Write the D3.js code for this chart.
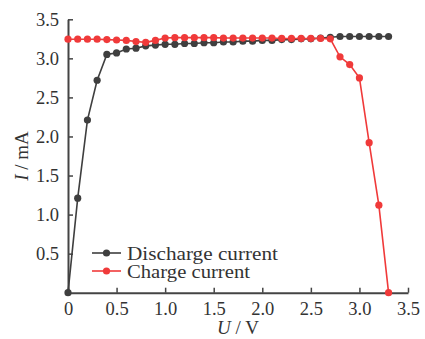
<!DOCTYPE html>
<html>
<head>
<meta charset="utf-8">
<script src="https://cdn.jsdelivr.net/npm/d3@7"></script>
<style>
  body { margin: 0; background: #fff; }
  text { font-family: "Liberation Serif", "Times New Roman", serif; fill: #333; }
</style>
</head>
<body>
<div id="chart"></div>
<script>
// Set up our chart
var svgWidth = 425;
var svgHeight = 339;

var margin = { top: 19.3, right: 17, bottom: 46.3, left: 68 };
var width = svgWidth - margin.left - margin.right;
var height = svgHeight - margin.top - margin.bottom;

// data
var dischargeU = [0, 0.1, 0.2, 0.3, 0.4, 0.5, 0.6, 0.7, 0.8, 0.9, 1.0, 1.1, 1.2, 1.3, 1.4, 1.5, 1.6,
  1.7, 1.8, 1.9, 2.0, 2.1, 2.2, 2.3, 2.4, 2.5, 2.6, 2.7, 2.8, 2.9, 3.0, 3.1, 3.2, 3.3];
var dischargeI = [0, 1.21, 2.21, 2.72, 3.05, 3.07, 3.12, 3.13, 3.16, 3.17, 3.18, 3.18, 3.19, 3.19, 3.20, 3.20, 3.21,
  3.21, 3.22, 3.22, 3.23, 3.23, 3.24, 3.24, 3.25, 3.25, 3.26, 3.27, 3.28, 3.28, 3.28, 3.28, 3.28, 3.28];

var chargeU = [0, 0.1, 0.2, 0.3, 0.4, 0.5, 0.6, 0.7, 0.8, 0.9, 1.0, 1.1, 1.2, 1.3, 1.4, 1.5, 1.6,
  1.7, 1.8, 1.9, 2.0, 2.1, 2.2, 2.3, 2.4, 2.5, 2.6, 2.7, 2.8, 2.9, 3.0, 3.1, 3.2, 3.3];
var chargeI = [3.245, 3.245, 3.245, 3.245, 3.24, 3.235, 3.23, 3.215, 3.205, 3.23, 3.26, 3.265, 3.265, 3.265, 3.265, 3.265, 3.26,
  3.26, 3.26, 3.26, 3.26, 3.26, 3.255, 3.255, 3.255, 3.255, 3.255, 3.25, 3.02, 2.92, 2.75, 1.92, 1.12, 0];

var xTicks = [0, 0.5, 1.0, 1.5, 2.0, 2.5, 3.0, 3.5];
var yTicks = [0.5, 1.0, 1.5, 2.0, 2.5, 3.0, 3.5];

var seriesNames = ["Discharge current", "Charge current"];
var seriesColors = ["#3f3f3f", "#f03a3a"];

var serif = "'Liberation Serif', 'Times New Roman', serif";

var svg = d3.select("#chart")
  .append("svg")
  .attr("width", svgWidth)
  .attr("height", svgHeight);

var chartGroup = svg.append("g")
  .attr("transform", `translate(${margin.left}, ${margin.top})`);

var xScale = d3.scaleLinear().domain([0, 3.5]).range([0, width]);
var yScale = d3.scaleLinear().domain([0, 3.5]).range([height, 0]);

// axes, ticks pointing inward
var bottomAxis = d3.axisBottom(xScale)
  .tickValues(xTicks)
  .tickSizeInner(-5)
  .tickSizeOuter(0)
  .tickPadding(9)
  .tickFormat(d => d === 0 ? "0" : d3.format(".1f")(d));

var leftAxis = d3.axisLeft(yScale)
  .tickValues(yTicks)
  .tickSizeInner(-5)
  .tickSizeOuter(0)
  .tickPadding(9)
  .tickFormat(d3.format(".1f"));

var xAxis = chartGroup.append("g")
  .attr("transform", `translate(0, ${height})`)
  .call(bottomAxis);

var yAxis = chartGroup.append("g")
  .call(leftAxis);

[xAxis, yAxis].forEach(function(ax) {
  ax.attr("font-family", serif).attr("font-size", 18.5);
  ax.select(".domain").attr("stroke", "#444").attr("stroke-width", 2);
  ax.selectAll(".tick line").attr("stroke", "#444").attr("stroke-width", 1.5);
  ax.selectAll(".tick text")
    .style("font-family", serif)
    .style("font-size", "18.5px")
    .attr("fill", "#333");
});
yAxis.selectAll(".tick text").attr("dy", "0.34em");

// lines and markers
var series = [
  { name: seriesNames[0], color: seriesColors[0], pts: dischargeU.map((u, i) => [u, dischargeI[i]]) },
  { name: seriesNames[1], color: seriesColors[1], pts: chargeU.map((u, i) => [u, chargeI[i]]) }
];

var line = d3.line()
  .x(d => xScale(d[0]))
  .y(d => yScale(d[1]));

series.forEach(function(s) {
  chartGroup.append("path")
    .datum(s.pts)
    .attr("fill", "none")
    .attr("stroke", s.color)
    .attr("stroke-width", 1.6)
    .attr("d", line);

  chartGroup.selectAll(null)
    .data(s.pts)
    .enter()
    .append("circle")
    .attr("cx", d => xScale(d[0]))
    .attr("cy", d => yScale(d[1]))
    .attr("r", 3.6)
    .attr("fill", s.color);
});

// legend
var legend = svg.append("g").attr("transform", "translate(92, 253)");
var legendWidths = [151, 123];
series.forEach(function(s, i) {
  var row = legend.append("g").attr("transform", `translate(0, ${i * 18})`);
  row.append("line")
    .attr("x1", 0).attr("x2", 29)
    .attr("stroke", s.color).attr("stroke-width", 1.6);
  row.append("circle").attr("cx", 14.5).attr("r", 3.6).attr("fill", s.color);
  row.append("text")
    .attr("x", 35)
    .attr("y", 6.5)
    .attr("textLength", legendWidths[i])
    .attr("lengthAdjust", "spacingAndGlyphs")
    .style("font-size", "18.5px")
    .text(s.name);
});

// axis titles
var xTitle = svg.append("text")
  .attr("x", margin.left + width / 2)
  .attr("y", 334)
  .attr("text-anchor", "middle")
  .style("font-size", "19px");
xTitle.append("tspan").style("font-style", "italic").text("U");
xTitle.append("tspan").text(" / V");

var yTitle = svg.append("text")
  .attr("transform", `translate(28, ${margin.top + height / 2}) rotate(-90)`)
  .attr("text-anchor", "middle")
  .style("font-size", "19px");
yTitle.append("tspan").style("font-style", "italic").text("I");
yTitle.append("tspan").text(" / mA");
</script>
</body>
</html>
